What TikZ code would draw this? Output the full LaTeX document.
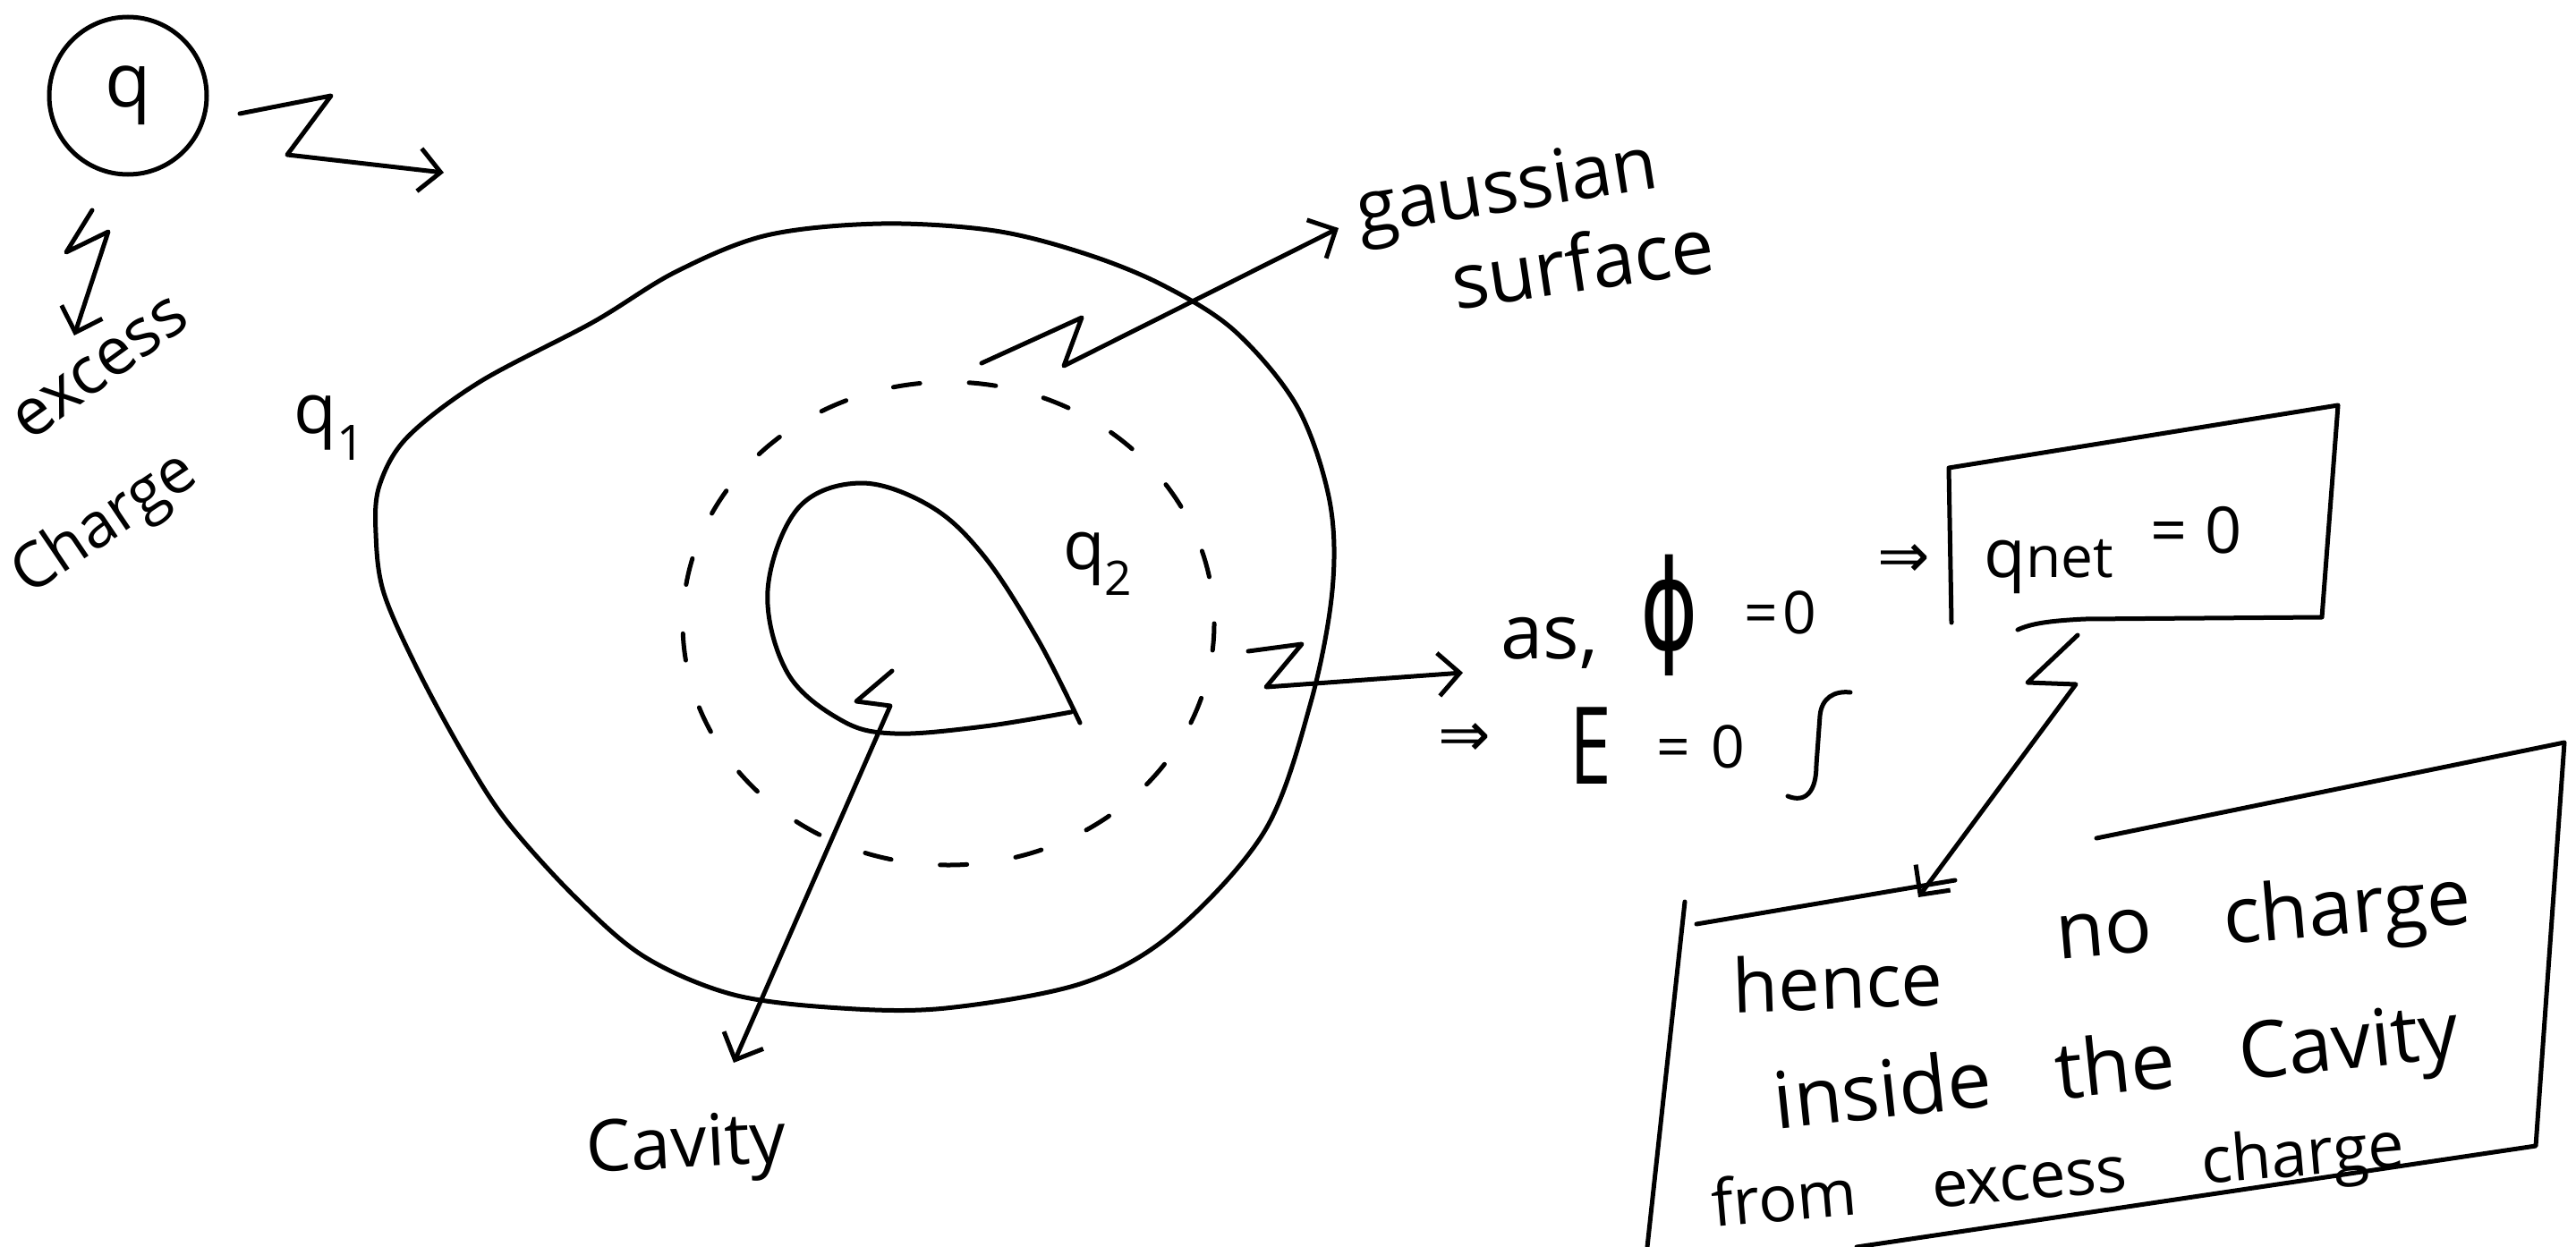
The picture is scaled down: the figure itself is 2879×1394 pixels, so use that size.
\documentclass[tikz,border=0pt]{standalone}
\usepackage{fontspec}
\setmainfont{Open Sans}
\newfontfamily\symf{DejaVu Sans}
\usetikzlibrary{arrows.meta}
\newcommand\hfs[1]{\fontsize{#1}{#1}\selectfont}
\begin{document}
\begin{tikzpicture}[x=1pt,y=-1pt,line width=5pt,line cap=round,line join=round,
  arr/.style={-{Straight Barb[length=24pt,width=48pt]}},
  lbl/.style={inner sep=0pt,anchor=base},
  gauss/.style={line width=5pt,dash pattern=on 30pt off 55pt},
]
\useasboundingbox (0,0) rectangle (2879,1394);
\fill[white] (0,0) rectangle (2879,1394);

% conductor outline
\draw plot[smooth cycle, tension=0.55] coordinates {
 (420,596) (429,663) (469,753) (522,850) (568,920) (644,1004) (721,1070)
 (820,1112) (940,1127) (1057,1127) (1210,1099) (1312,1042) (1414,928)
 (1465,785) (1489,660) (1486,560) (1450,455) (1380,370) (1300,319)
 (1214,284) (1112,258) (985,250) (857,263) (755,304) (663,360)
 (536,427) (455,489) (424,543)};

% gaussian surface
\draw[gauss] (1060,697) ellipse [x radius=297, y radius=270];

% cavity
\draw plot[smooth, tension=0.6] coordinates {
 (1207,808) (1160,715) (1100,622) (1040,566) (962,540) (892,568)
 (858,660) (880,752) (940,805) (1000,820) (1100,812) (1197,796)};

% excess charge q
\node[circle,draw,minimum size=176pt,inner sep=0pt,font=\hfs{84}] (q) at (143,107) {q};
\node[lbl,rotate=36,font=\hfs{74}] (excess) at (124,428) {excess};
\node[lbl,rotate=34,font=\hfs{70}] (charge) at (128,602) {Charge};
\node[lbl,font=\hfs{78}] (qone) at (368,484) {q\textsubscript{1}};
\node[lbl,font=\hfs{76}] (qtwo) at (1227,636) {q\textsubscript{2}};

\coordinate (qa1) at (268,127);
\coordinate (qa2) at (370,107);
\coordinate (qa3) at (321,173);
\coordinate (qa4) at (496,193);
\draw[arr] (qa1) -- (qa2) -- (qa3) -- (qa4);

\coordinate (da1) at (103,235);
\coordinate (da2) at (74,282);
\coordinate (da3) at (121,259);
\coordinate (da4) at (83,375);
\draw[arr] (da1) -- (da2) -- (da3) -- (da4);

% gaussian surface label
\node[lbl,rotate=9,font=\hfs{83}] (gaussian) at (1688,236) {gaussian};
\node[lbl,rotate=8.5,font=\hfs{86}] (surface) at (1773,325) {surface};
\coordinate (ga1) at (1097,406);
\coordinate (ga2) at (1209,355);
\coordinate (ga3) at (1189,409);
\coordinate (ga4) at (1496,255);
\draw[arr] (ga1) -- (ga2) -- (ga3) -- (ga4);

% cavity label
\node[lbl,rotate=3,font=\hfs{80}] (cavity) at (768,1305) {Cavity};
\coordinate (ca1) at (997,750);
\coordinate (ca2) at (957,784);
\coordinate (ca3) at (995,789);
\coordinate (ca4) at (820,1188);
\draw[arr] (ca1) -- (ca2) -- (ca3) -- (ca4);

% as, phi = 0
\coordinate (za1) at (1395,728);
\coordinate (za2) at (1455,720);
\coordinate (za3) at (1415,768);
\coordinate (za4) at (1635,752);
\draw[arr] (za1) -- (za2) -- (za3) -- (za4);
\node[lbl,font=\hfs{85}] (as) at (1732,736) {as,};
\node[inner sep=0pt,font=\symf\hfs{140}] (phi) at (1866,688) {\scalebox{0.7}[1]{ϕ}};
\node[lbl,font=\hfs{66}] (phizero) at (1990,708) {=\hspace{6pt}0};
\node[inner sep=0pt,font=\symf\hfs{70}] (impa) at (1637,827) {⇒};
\node[lbl,font=\hfs{120}] (E) at (1778,876) {\scalebox{0.7}[1]{E}};
\node[lbl,font=\hfs{66}] (ezero) at (1901,858) {=\hspace{24pt}0};
\draw (1998,890) .. controls (2018,898) and (2030,885) .. (2030,855)
      -- (2034,800) .. controls (2036,780) and (2050,772) .. (2068,774);
\node[inner sep=0pt,font=\symf\hfs{70}] (impb) at (2128,627) {⇒};

% q_net box
\draw (2181,696) -- (2178,523) -- (2613,453) -- (2595,690) -- (2330,692)
      .. controls (2290,694) and (2270,697) .. (2255,704);
\node[lbl,font=\hfs{76}] (qnet) at (2290,645) {q{\hfs{64}net}};
\node[lbl,font=\hfs{72}] (qnetzero) at (2455,618) {=\hspace{20pt}0};
\coordinate (na1) at (2322,710);
\coordinate (na2) at (2266,763);
\coordinate (na3) at (2320,765);
\coordinate (na4) at (2144,1003);
\draw[arr] (na1) -- (na2) -- (na3) -- (na4);

% conclusion box
\draw (1883,1008) -- (1841,1394);
\draw (1896,1033) -- (2185,984);
\draw (2343,937) -- (2866,830) -- (2834,1281) -- (2075,1394);
\node[lbl,rotate=2,font=\hfs{83}] (hence) at (2055,1128) {hence};
\node[lbl,rotate=5,font=\hfs{88}] (nocharge) at (2532,1052) {no\hspace{80pt}charge};
\node[lbl,rotate=6,font=\hfs{88}] (inside) at (2368,1222) {inside\hspace{72pt}the\hspace{72pt}Cavity};
\node[lbl,rotate=5,font=\hfs{72}] (from) at (2302,1338) {from\hspace{84pt}excess\hspace{84pt}charge};
\end{tikzpicture}
\end{document}
